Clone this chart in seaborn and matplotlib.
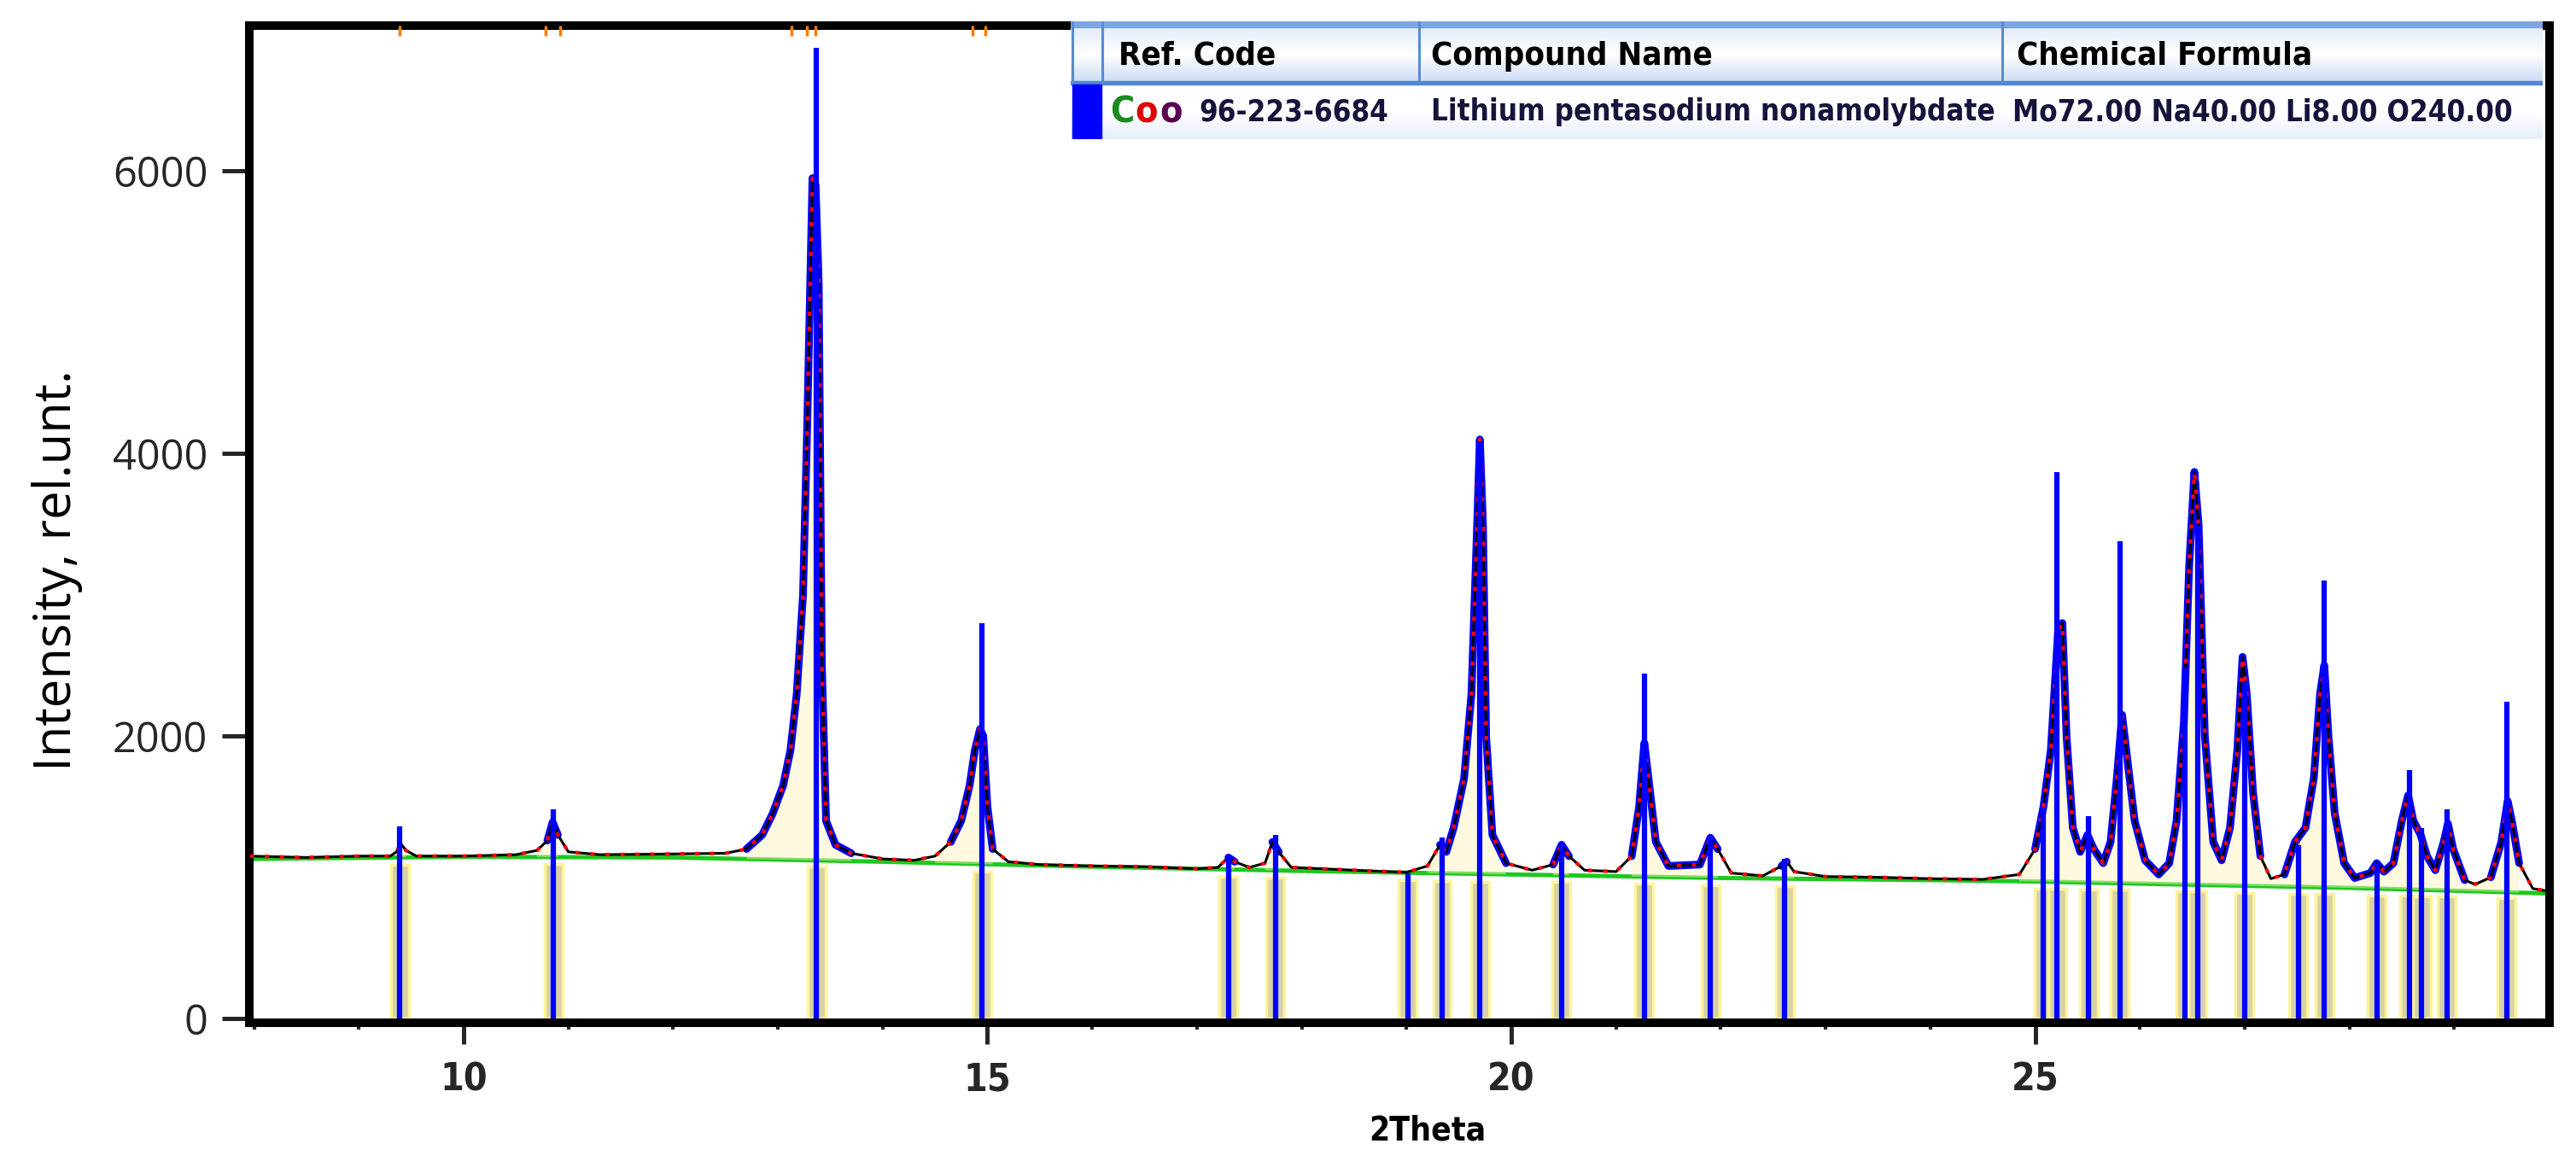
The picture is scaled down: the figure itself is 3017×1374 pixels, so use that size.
"""
plot.py - XRD pattern with reference sticks (Lithium pentasodium nonamolybdate).
"""
import matplotlib
matplotlib.use("Agg")  # headless
import matplotlib.pyplot as plt
import numpy as np
import seaborn as sns
from matplotlib import font_manager
from matplotlib.colors import LinearSegmentedColormap
from matplotlib.font_manager import FontProperties
from matplotlib.patches import Rectangle

# ---------------------------------------------------------------- data
# measured profile (2theta, counts) read off the picture
obs_points = [
    (7.96, 1150), (8.5, 1140), (9.0, 1150), (9.3, 1150), (9.36, 1180), (9.40, 1240),
    (9.45, 1190), (9.55, 1150), (10.0, 1150), (10.5, 1160), (10.7, 1190), (10.8, 1260),
    (10.85, 1390), (10.9, 1300), (11.0, 1180), (11.3, 1160), (12.0, 1165), (12.5, 1170),
    (12.7, 1200), (12.85, 1300), (12.95, 1450), (13.05, 1650), (13.12, 1900), (13.18, 2300),
    (13.24, 3000), (13.28, 4200), (13.30, 4900), (13.33, 5950), (13.36, 5900), (13.39, 5200),
    (13.42, 2500), (13.46, 1400), (13.55, 1230), (13.7, 1170), (14.0, 1130), (14.3, 1120),
    (14.5, 1150), (14.65, 1250), (14.75, 1400), (14.83, 1650), (14.88, 1900), (14.93, 2050),
    (14.96, 2000), (15.0, 1500), (15.05, 1200), (15.2, 1110), (15.5, 1090), (16.0, 1080),
    (16.5, 1075), (17.0, 1060), (17.2, 1070), (17.3, 1140), (17.36, 1110), (17.5, 1070),
    (17.65, 1100), (17.72, 1250), (17.78, 1180), (17.9, 1070), (18.5, 1050), (19.0, 1035),
    (19.2, 1080), (19.32, 1230), (19.38, 1180), (19.45, 1350), (19.55, 1700), (19.62, 2300),
    (19.67, 3400), (19.70, 4100), (19.73, 3500), (19.76, 2000), (19.82, 1300), (19.95, 1100),
    (20.2, 1050), (20.4, 1090), (20.48, 1230), (20.55, 1150), (20.7, 1050), (21.0, 1040),
    (21.15, 1150), (21.22, 1500), (21.27, 1950), (21.31, 1700), (21.38, 1250), (21.5, 1080),
    (21.8, 1090), (21.9, 1280), (21.97, 1200), (22.1, 1030), (22.4, 1010), (22.58, 1080),
    (22.63, 1110), (22.7, 1040), (23.0, 1005), (23.5, 1000), (24.0, 990), (24.5, 985),
    (24.85, 1020), (25.0, 1200), (25.08, 1500), (25.15, 1900), (25.22, 2750), (25.26, 2800),
    (25.30, 2000), (25.36, 1350), (25.43, 1180), (25.50, 1300), (25.56, 1200), (25.65, 1100),
    (25.72, 1250), (25.78, 1700), (25.83, 2150), (25.87, 1900), (25.95, 1400), (26.05, 1120),
    (26.18, 1020), (26.28, 1100), (26.35, 1400), (26.42, 2100), (26.47, 3200), (26.52, 3870),
    (26.56, 3500), (26.62, 2000), (26.70, 1250), (26.78, 1120), (26.86, 1350), (26.93, 1900),
    (26.98, 2560), (27.02, 2300), (27.08, 1600), (27.15, 1150), (27.25, 990), (27.38, 1020),
    (27.48, 1250), (27.58, 1350), (27.66, 1700), (27.72, 2300), (27.76, 2500), (27.80, 2000),
    (27.86, 1450), (27.95, 1100), (28.05, 995), (28.2, 1030), (28.26, 1100), (28.33, 1040),
    (28.42, 1100), (28.50, 1400), (28.56, 1580), (28.61, 1400), (28.68, 1300), (28.74, 1150),
    (28.82, 1050), (28.9, 1250), (28.94, 1380), (28.99, 1200), (29.1, 980), (29.2, 950),
    (29.35, 1000), (29.45, 1250), (29.51, 1540), (29.55, 1400), (29.62, 1100), (29.75, 920),
    (29.91, 900),
]

# fitted background
bg_theta = [7.96, 10, 12, 14, 16, 18, 20, 22, 24, 25, 26, 27, 28, 29, 29.91]
bg_counts = [1130, 1145, 1140, 1110, 1075, 1045, 1020, 995, 980, 970, 955, 940, 925, 905, 885]

# reference pattern 96-223-6684: position, stick top, peak-marker top, bar top
ref_pos = [9.39, 10.86, 13.37, 14.95, 17.30, 17.75, 19.01, 19.34, 19.70, 20.48, 21.27,
           21.90, 22.61, 25.08, 25.21, 25.51, 25.81, 26.43, 26.55, 27.00, 27.51, 27.76,
           28.26, 28.57, 28.69, 28.93, 29.50]
ref_height = [1360, 1480, 6870, 2800, 1160, 1300, 1030, 1280, 4080, 1240, 2440,
              1300, 1130, 1500, 3870, 1430, 3380, 2480, 3490, 2380, 1230, 3100,
              1100, 1760, 1350, 1480, 2240]
marker_top = [1220, 1380, 5200, 2000, 1130, 1230, 1030, 1220, 4000, 1220, 1900,
              1270, 1100, 1500, 2750, 1280, 2100, 2100, 3800, 2500, 1250, 2450,
              1090, 1550, 1280, 1360, 1500]
bar_top = [1090, 1095, 1075, 1040, 1005, 1000, 980, 975, 970, 965, 955,
           945, 940, 920, 918, 915, 910, 902, 900, 890, 883, 880,
           872, 868, 866, 862, 850]
# peak markers clipped at the top frame
top_marks = [9.39, 10.78, 10.92, 13.13, 13.28, 13.36, 14.86, 14.98]

x_major = [10, 15, 20, 25]
y_major = [0, 2000, 4000, 6000]

table_header = ["Ref. Code", "Compound Name", "Chemical Formula"]
table_row = ["96-223-6684", "Lithium pentasodium nonamolybdate", "Mo72.00 Na40.00 Li8.00 O240.00"]

# ---------------------------------------------------------------- style
sns.set_theme(style="white")
plt.rcParams["font.family"] = ["Open Sans", "DejaVu Sans"]


def condensed_bold():
    """Look for an installed narrow/condensed bold sans face; None if missing."""
    best = None
    for f in font_manager.fontManager.ttflist:
        name = f.fname.lower()
        if ("narrow" in name or "condensed" in name) and "mono" not in name \
                and "serif" not in name.replace("sans", ""):
            bold = f.weight in ("bold", 700) or "bold" in name
            italic = "italic" in name or "oblique" in name
            if bold and not italic and "extra" not in name and "semi" not in name:
                return FontProperties(fname=f.fname)
            if best is None and not italic:
                best = FontProperties(fname=f.fname, weight="bold")
    return best


cond = condensed_bold()
if cond is not None:
    NSCALE = 1.0
    def narrow(size):
        fp = cond.copy()
        fp.set_size(size)
        return fp
else:
    NSCALE = 0.95
    def narrow(size):
        return FontProperties(family=["Liberation Sans", "DejaVu Sans"], weight="bold",
                              size=size * NSCALE)

W, H, DPI = 3017, 1374, 100
fig = plt.figure(figsize=(W / DPI, H / DPI), dpi=DPI)
ax = fig.add_axes([292 / W, 1 - 1198 / H, (2986 - 292) / W, (1198 - 30) / H])

theta = np.array([p[0] for p in obs_points])
counts = np.array([p[1] for p in obs_points])
bg_at = np.interp(theta, bg_theta, bg_counts)

# reference bars (pale) under the baseline
ax.bar(ref_pos, bar_top, width=0.17, color="#d6d2a8", edgecolor="#fff39a",
       linewidth=2.5, zorder=1)

# background
sns.lineplot(x=bg_theta, y=bg_counts, color="#1ec81e", lw=3.6, ax=ax, zorder=2)

# peak area + peak markers
ax.fill_between(theta, bg_at, counts, where=counts > bg_at + 40, color="#fff6b8",
                alpha=0.45, lw=0, zorder=2.5)
ax.vlines(ref_pos, np.array(bar_top) + 45, marker_top, color="#ff9a00", lw=2.6, zorder=2.6)

# calculated profile (blue) where above the background
blue = np.where(counts > bg_at + 55, counts, np.nan)
ax.plot(theta, blue, color="#0000ff", lw=6.5, zorder=3, solid_capstyle="round",
        solid_joinstyle="round")

# measured data: black line with red dots
sns.lineplot(x=theta, y=counts, color="black", lw=2.2, sort=False, estimator=None,
             ax=ax, zorder=4)
ax.plot(theta, counts, color="#ff0000", lw=3.0, dashes=(1.2, 3.0), zorder=4.5)

# reference sticks
ax.vlines(ref_pos, 0, ref_height, color="#0000ff", lw=4.5, zorder=6)
ax.vlines(top_marks, 6960, 7030, color="#ff7a00", lw=2.5, zorder=6)

ax.set_xlim(7.955, 29.91)
ax.set_ylim(-30, 7030)
ax.set_xticks(x_major)
ax.set_xticks(np.arange(8, 30), minor=True)
ax.set_yticks(y_major)
ax.set_xlabel("")
ax.set_ylabel("")

for side in ["left", "bottom", "right", "top"]:
    ax.spines[side].set_visible(True)
    ax.spines[side].set_color("black")
    ax.spines[side].set_linewidth(7.2)

ax.tick_params(axis="x", which="major", length=18, width=3.6, direction="out",
               pad=15, bottom=True, top=False)
ax.tick_params(axis="x", which="minor", length=6, width=3.0, direction="out",
               bottom=True, top=False)
ax.tick_params(axis="y", which="major", length=23, width=3.6, direction="out",
               pad=12, labelsize=35, left=True, right=False)
for lab in ax.get_xticklabels():
    lab.set_fontproperties(narrow(32))

fig.text(67 / W, 1 - 668 / H, "Intensity, rel.unt.", rotation=90, ha="center",
         va="center", fontsize=43, color="black")
fig.text(1672 / W, 1 - 1324 / H, "2Theta", ha="center", va="center",
         fontproperties=narrow(28), color="black")

# ---------------------------------------------------------------- table
tx0, tx1, ty0, ty1 = 1254, 2978, 25, 163
tab = fig.add_axes([tx0 / W, 1 - ty1 / H, (tx1 - tx0) / W, (ty1 - ty0) / H], zorder=10)
tab.set_xlim(tx0, tx1)
tab.set_ylim(ty1, ty0)
tab.axis("off")

tab.add_patch(Rectangle((tx0, ty0), tx1 - tx0, ty1 - ty0, color="white", zorder=0))
head_cmap = LinearSegmentedColormap.from_list("head", ["#e2ecf9", "#ffffff", "#cadcf4"])
tab.imshow(np.linspace(0, 1, 64).reshape(-1, 1), cmap=head_cmap, aspect="auto",
           extent=(tx0, tx1, 97, 31), zorder=1)
row_cmap = LinearSegmentedColormap.from_list("row", ["#ffffff", "#ffffff", "#e6eefa"])
tab.imshow(np.linspace(0, 1, 64).reshape(-1, 1), cmap=row_cmap, aspect="auto",
           extent=(tx0, tx1, ty1, 99), zorder=1)
tab.add_patch(Rectangle((tx0, ty0), tx1 - tx0, 7, color="#7ea6de", zorder=2))
tab.add_patch(Rectangle((tx0, 95), tx1 - tx0, 4, color="#4f86d0", zorder=2))
for cx in [tx0 + 2, 1291, 1662, 2345]:
    tab.plot([cx, cx], [ty0, 96], color="#5b8ad0", lw=2.2, zorder=3)
tab.add_patch(Rectangle((tx0 + 2, 99), 1291 - tx0 - 3, ty1 - 99, color="#0000ff", zorder=2))

head_x = [1310, 1676, 2362]
for x, s in zip(head_x, table_header):
    tab.text(x, 66, s, ha="left", va="center", fontproperties=narrow(27.5),
             color="black", zorder=4)

row_x = [1404, 1676, 2357]
for x, s in zip(row_x, table_row):
    tab.text(x, 131, s, ha="left", va="center", fontproperties=narrow(25),
             color="#14143c", zorder=4)
for x, s, c in zip([1300, 1329, 1358], ["C", "o", "o"], ["#1a8a1a", "#e00000", "#5a0050"]):
    tab.text(x, 131, s, ha="left", va="center", fontproperties=narrow(31),
             color=c, zorder=4)

fig.savefig("out.png", dpi=DPI)
plt.close(fig)
